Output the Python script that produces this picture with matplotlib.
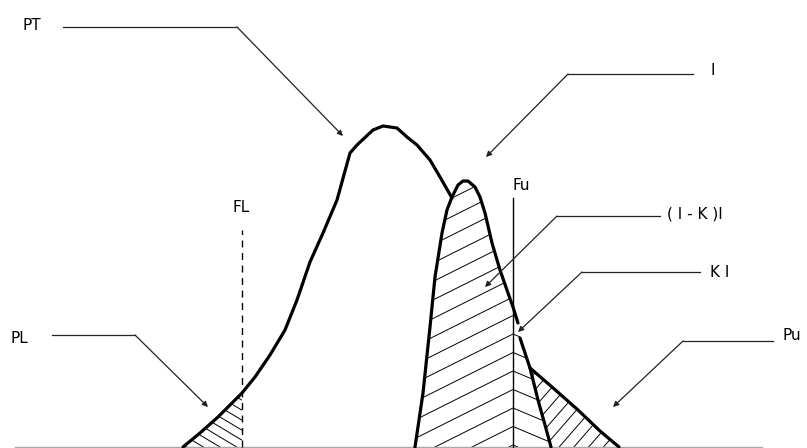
import numpy as np
import matplotlib.pyplot as plt
from matplotlib.patches import Polygon
from matplotlib.collections import LineCollection

# total distribution PT: rising flank, peak, down to where it meets the I hump
pt_x = [183, 200, 218, 242, 255, 270, 285, 297, 310, 323, 337, 350, 357,
        373, 383, 397, 407, 417, 430, 440, 452]
pt_h = [0, 14, 30, 54, 70, 92, 117, 147, 185, 214, 247, 294, 302,
        317, 321, 319, 310, 302, 287, 270, 249]

# I hump, upper part (down to the K I arrow) and lower part
i_top_x = [415, 423, 430, 435, 442, 447, 452, 458, 463, 468, 475, 480, 485,
           492, 500, 508, 513, 518]
i_top_h = [0, 54, 120, 170, 214, 237, 250, 262, 266, 266, 260, 250, 234,
           204, 177, 154, 140, 124]
i_low_x = [520, 525, 530, 538, 545, 551]
i_low_h = [109, 94, 79, 47, 22, 0]

# upper tail of PT beyond the I hump
tail_x = [530, 552, 578, 600, 619]
tail_h = [79, 60, 37, 16, 0]

FL_X = 242
FU_X = 513

# label text, text anchor, leader elbow/start, arrow tip
labels = [
    ('PT', (23, 422), [(63, 420), (237, 420)], (343, 311)),
    ('I', (710, 377), [(693, 373), (568, 373)], (486, 290)),
    ('( I - K )I', (667, 233), [(660, 231), (557, 231)], (485, 160)),
    ('K I', (710, 175), [(700, 175), (582, 175)], (518, 115)),
    ('Pu', (782, 112), [(773, 106), (683, 106)], (613, 40)),
    ('PL', (10, 109), [(52, 112), (135, 112)], (208, 40)),
]

fig = plt.figure(figsize=(8.07, 4.48), dpi=100)
ax = fig.add_axes([0, 0, 1, 1])
ax.set_xlim(0, 807)
ax.set_ylim(-1, 447)
ax.axis('off')


def clip_region(verts):
    patch = Polygon(verts, closed=True, facecolor='none', edgecolor='none')
    ax.add_patch(patch)
    return patch


def hatch(clip, x0, x1, slope, start, stop, step, anchor=None):
    # parallel lines h = c + slope * (x - anchor), clipped to a region
    if anchor is None:
        anchor = x0
    segs = [[(x0, c + slope * (x0 - anchor)), (x1, c + slope * (x1 - anchor))]
            for c in np.arange(start, stop, step)]
    lc = LineCollection(segs, colors='black', linewidths=0.7)
    ax.add_collection(lc)
    lc.set_clip_path(clip)


# hatched areas
pl_verts = [(x, h) for x, h in zip(pt_x, pt_h) if x <= FL_X] + [(FL_X, 0)]
pl_clip = clip_region(pl_verts)
hatch(pl_clip, 170, FL_X, -0.6, 0, 110, 10)

# (1-K)I and KI share their line ends on Fu
i_clip = clip_region(list(zip(i_top_x, i_top_h)) + list(zip(i_low_x, i_low_h)))
hatch(i_clip, 400, FU_X, 0.5, 2, 330, 18.5, anchor=FU_X)
hatch(i_clip, FU_X, 560, -0.42, 2, 330, 18.5, anchor=FU_X)

pu_verts = list(zip(tail_x, tail_h)) + \
    [(x, h) for x, h in zip(i_low_x[::-1], i_low_h[::-1]) if x >= 530]
pu_clip = clip_region(pu_verts)
hatch(pu_clip, 520, 630, 1.15, -130, 90, 17)

# baseline
ax.plot([15, 762], [0, 0], color='#a8a8a8', lw=1)

# curves
curve = dict(color='black', lw=2.3, solid_capstyle='round', solid_joinstyle='round')
ax.plot(pt_x, pt_h, **curve)
ax.plot(i_top_x, i_top_h, **curve)
ax.plot(i_low_x, i_low_h, **curve)
ax.plot(tail_x, tail_h, **curve)

# limits FL and Fu
ax.plot([FL_X, FL_X], [0, 217], color='black', lw=1, linestyle=(0, (5, 4)))
ax.text(FL_X - 1, 240, 'FL', ha='center', va='center', fontsize=11)
ax.plot([FU_X, FU_X], [0, 249], color='black', lw=1)
ax.text(FU_X + 8, 262, 'Fu', ha='center', va='center', fontsize=11)

# labels with leaders
for text, pos, leader, tip in labels:
    ax.text(pos[0], pos[1], text, ha='left', va='center', fontsize=11)
    (xa, ya), (xb, yb) = leader
    ax.plot([xa, xb], [ya, yb], color='#222222', lw=0.9)
    ax.annotate('', xy=tip, xytext=(xb, yb),
                arrowprops=dict(arrowstyle='-|>', color='#222222', lw=0.9,
                                mutation_scale=8, shrinkA=0, shrinkB=0))

fig.savefig('out.png', dpi=100, facecolor='white')
